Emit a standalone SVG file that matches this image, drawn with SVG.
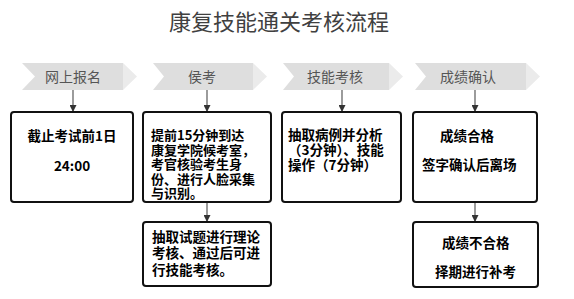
<svg xmlns="http://www.w3.org/2000/svg" width="574" height="299" viewBox="0 0 574 299">
<defs>
<marker id="ah" viewBox="0 0 10 10" refX="10" refY="5" markerWidth="7" markerHeight="7" markerUnits="userSpaceOnUse" orient="auto">
<path d="M0,0 L10,5 L0,10 z" fill="#333"/>
</marker>
</defs>
<style>
.title{font-family:"Noto Sans CJK SC","Noto Sans",sans-serif;font-size:22px;fill:#404040;text-anchor:middle}
.body{fill:#dedede}
.tip{fill:#ebebeb}
.ct{font-family:"Noto Sans CJK SC","Noto Sans",sans-serif;font-size:14px;fill:#555;text-anchor:middle}
.box{fill:#fff;stroke:#111;stroke-width:2}
.bt{font-family:"Noto Sans CJK SC","Noto Sans",sans-serif;font-size:13.5px;font-weight:bold;fill:#000}
.sm{font-size:13px}
.mid{text-anchor:middle}
.conn line{stroke:#666;stroke-width:1.3;marker-end:url(#ah)}
</style>
<rect width="574" height="299" fill="#fff"/>
<text class="title" x="279" y="30">康复技能通关考核流程</text>

<g id="step1">
<polygon class="body" points="22,63 123,63 123,90 22,90 35,76.5"/>
<polygon class="tip" points="123,63 137,76.5 123,90"/>
<text class="ct" x="73" y="82">网上报名</text>
</g>
<g id="step2">
<polygon class="body" points="153,63 253,63 253,90 153,90 164,76.5"/>
<polygon class="tip" points="253,63 267,76.5 253,90"/>
<text class="ct" x="202" y="82">侯考</text>
</g>
<g id="step3">
<polygon class="body" points="283,63 389,63 389,90 283,90 294,76.5"/>
<polygon class="tip" points="389,63 403,76.5 389,90"/>
<text class="ct" x="335" y="82">技能考核</text>
</g>
<g id="step4">
<polygon class="body" points="415,63 526,63 526,90 415,90 426,76.5"/>
<polygon class="tip" points="526,63 540,76.5 526,90"/>
<text class="ct" x="468" y="82">成绩确认</text>
</g>

<g class="conn">
<line x1="73" y1="90" x2="73" y2="112"/>
<line x1="207" y1="90" x2="207" y2="112"/>
<line x1="342" y1="90" x2="342" y2="112"/>
<line x1="475" y1="90" x2="475" y2="112"/>
<line x1="207" y1="202" x2="207" y2="222"/>
<line x1="475" y1="202" x2="475" y2="222"/>
</g>

<g id="box1">
<rect class="box" x="11" y="112" width="122" height="90" rx="3"/>
<text class="bt mid" x="72" y="141">截止考试前1日</text>
<text class="bt mid" x="72" y="171">24:00</text>
</g>
<g id="box2">
<rect class="box" x="143" y="112" width="128" height="90" rx="3"/>
<text class="bt sm" x="151" y="140">提前15分钟到达</text>
<text class="bt sm" x="151" y="154.5">康复学院候考室，</text>
<text class="bt sm" x="151" y="169">考官核验考生身</text>
<text class="bt sm" x="151" y="183.5">份、进行人脸采集</text>
<text class="bt sm" x="151" y="198">与识别。</text>
</g>
<g id="box3">
<rect class="box" x="282" y="112" width="119" height="90" rx="3"/>
<text class="bt" x="288" y="140">抽取病例并分析</text>
<text class="bt" x="288" y="155">（3分钟）、技能</text>
<text class="bt" x="288" y="170">操作（7分钟）</text>
</g>
<g id="box4">
<rect class="box" x="413" y="112" width="124" height="90" rx="3"/>
<text class="bt" x="440" y="141">成绩合格</text>
<text class="bt" x="422" y="170">签字确认后离场</text>
</g>
<g id="box5">
<rect class="box" x="143" y="222" width="128" height="64" rx="3"/>
<text class="bt" x="152" y="242">抽取试题进行理论</text>
<text class="bt" x="152" y="258">考核、通过后可进</text>
<text class="bt" x="152" y="275">行技能考核。</text>
</g>
<g id="box6">
<rect class="box" x="413" y="222" width="125" height="65" rx="3"/>
<text class="bt" x="442" y="248">成绩不合格</text>
<text class="bt" x="435" y="277">择期进行补考</text>
</g>
</svg>
